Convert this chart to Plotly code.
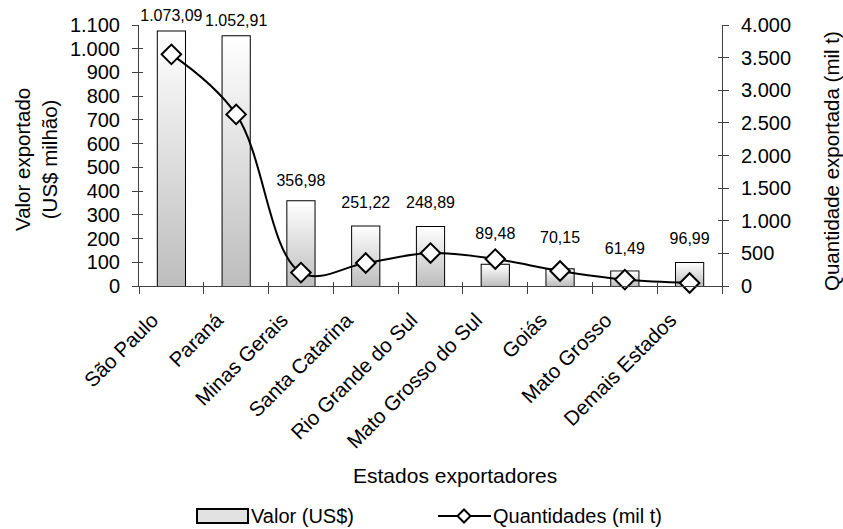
import plotly.graph_objects as go

# Exportações por estado: valor (US$ milhão) e quantidade (mil t)
estados = ["São Paulo", "Paraná", "Minas Gerais", "Santa Catarina",
           "Rio Grande do Sul", "Mato Grosso do Sul", "Goiás",
           "Mato Grosso", "Demais Estados"]
valor = [1073.09, 1052.91, 356.98, 251.22, 248.89, 89.48, 70.15, 61.49, 96.99]
quantidade = [3550, 2630, 205, 352, 505, 413, 230, 98, 46]

left_ticks = list(range(0, 1101, 100))
right_ticks = list(range(0, 4001, 500))

# vertical gap (px) between each bar top and its value label
label_gap = [12, 12, 16, 19, 19, 25, 25, 18, 19]

FONT = "Liberation Sans, Arial, sans-serif"
BAR_W = 0.42
W, H = 843, 529
ML, MR, MT, MB = 139, 121, 25, 243
PW, PH = W - ML - MR, H - MT - MB
AX = "#404040"


def px(xp):
    return (xp - ML) / PW


def py(yp):
    return (H - MB - yp) / PH


pos = list(range(len(estados)))
bounds = [p - 0.5 for p in pos] + [len(estados) - 0.5]
xrange_ = [-0.5, len(estados) - 0.5]
fig = go.Figure()

# gradient fill of each bar (grey at the base fading to white at the top)
for i, v in zip(pos, valor):
    fig.add_trace(go.Scatter(
        x=[i - BAR_W / 2, i + BAR_W / 2, i + BAR_W / 2, i - BAR_W / 2, i - BAR_W / 2],
        y=[0, 0, v, v, 0],
        mode="lines", line=dict(width=0), fill="toself",
        fillgradient=dict(type="vertical", start=0, stop=v,
                          colorscale=[[0, "#bdbdbd"], [1, "#ffffff"]]),
        hoverinfo="skip", showlegend=False,
    ))

# bar outlines
fig.add_trace(go.Bar(
    x=pos, y=valor, width=BAR_W, name="Valor (US$)",
    marker=dict(color="rgba(0,0,0,0)", line=dict(color="black", width=2)),
    showlegend=False, hoverinfo="skip",
))

# value labels above the bars
fig.add_trace(go.Scatter(
    x=pos, y=valor, mode="markers+text",
    marker=dict(size=[2 * (g - 8) for g in label_gap], opacity=0),
    texttemplate="%{y:,.2f}", textposition="top center",
    textfont=dict(size=16, color="black", family=FONT),
    cliponaxis=False, showlegend=False, hoverinfo="skip",
))

# quantities on the secondary axis
fig.add_trace(go.Scatter(
    x=pos, y=quantidade, yaxis="y2", name="Quantidades (mil t)",
    mode="lines+markers",
    line=dict(color="black", width=2, shape="spline", smoothing=1.05),
    marker=dict(symbol="diamond", size=15, color="white",
                line=dict(color="black", width=2)),
    cliponaxis=False, showlegend=False,
))

# empty traces so the inner tick axes get drawn (ticks crossing the axis lines)
for xa, ya in (("x2", "y"), ("x", "y3"), ("x", "y4")):
    fig.add_trace(go.Scatter(x=[None], y=[None], xaxis=xa, yaxis=ya,
                             showlegend=False, hoverinfo="skip"))

axis_line = dict(showline=True, linecolor=AX, linewidth=1)
inner = dict(ticks="inside", ticklen=4, tickcolor=AX, tickwidth=1,
             showticklabels=False, showgrid=False, zeroline=False, showline=False)

fig.update_layout(
    width=W, height=H,
    margin=dict(l=ML, r=MR, t=MT, b=MB),
    paper_bgcolor="white", plot_bgcolor="white",
    separators=",.",
    font=dict(family=FONT, size=20, color="black"),
    showlegend=False,
    xaxis=dict(
        range=xrange_, tickmode="array",
        tickvals=pos, ticktext=estados, tickangle=-45,
        ticks="outside", ticklen=0, tickcolor="rgba(0,0,0,0)",
        ticklabelstandoff=13, ticklabelshift=-19,
        minor=dict(tickmode="array", tickvals=bounds,
                   ticks="outside", ticklen=7, tickcolor=AX, tickwidth=1),
        showgrid=False, zeroline=False, tickfont=dict(size=20.5), **axis_line,
    ),
    xaxis2=dict(range=xrange_, overlaying="x", anchor="y", tickmode="array",
                tickvals=bounds, **inner),
    yaxis=dict(
        range=[0, 1100], tickmode="array", tickvals=left_ticks,
        tickformat=",d", ticks="outside", ticklen=6, tickcolor=AX,
        ticklabelstandoff=8,
        showgrid=False, zeroline=False, tickfont=dict(size=20), **axis_line,
    ),
    yaxis2=dict(
        range=[0, 4000], overlaying="y", side="right", tickmode="array",
        tickvals=right_ticks, tickformat=",d", ticks="outside", ticklen=6,
        tickcolor=AX, ticklabelstandoff=8,
        showgrid=False, zeroline=False, tickfont=dict(size=20), **axis_line,
    ),
    yaxis3=dict(range=[0, 1100], overlaying="y", side="left", anchor="x",
                tickmode="array", tickvals=left_ticks, **inner),
    yaxis4=dict(range=[0, 4000], overlaying="y", side="right", anchor="x",
                tickmode="array", tickvals=right_ticks, **inner),
)

# axis titles
fig.add_annotation(text="Valor exportado<br>(US$ milhão)", textangle=-90,
                   xref="paper", yref="paper", x=px(36), y=py(160),
                   xanchor="center", yanchor="middle",
                   showarrow=False, font=dict(size=20.5))
fig.add_annotation(text="Quantidade exportada (mil t)", textangle=-90,
                   xref="paper", yref="paper", x=px(831), y=py(161),
                   xanchor="center", yanchor="middle",
                   showarrow=False, font=dict(size=20.5))
fig.add_annotation(text="Estados exportadores",
                   xref="paper", yref="paper", x=px(455), y=py(475),
                   xanchor="center", yanchor="middle",
                   showarrow=False, font=dict(size=21))

# legend
ly = 516
fig.add_shape(type="rect", xref="paper", yref="paper",
              x0=px(197), x1=px(248), y0=py(ly + 7), y1=py(ly - 7),
              fillcolor="#e2e2e2", line=dict(color="black", width=2))
fig.add_annotation(text="Valor (US$)", xref="paper", yref="paper",
                   x=px(249), y=py(ly), xanchor="left", yanchor="middle",
                   showarrow=False, font=dict(size=20))
fig.add_shape(type="line", xref="paper", yref="paper",
              x0=px(438), x1=px(491), y0=py(ly), y1=py(ly),
              line=dict(color="black", width=2))
d = 6.5
cx = 464
fig.add_shape(type="path", xref="paper", yref="paper",
              path=(f"M {px(cx - d)} {py(ly)} L {px(cx)} {py(ly - d)} "
                    f"L {px(cx + d)} {py(ly)} L {px(cx)} {py(ly + d)} Z"),
              fillcolor="white", line=dict(color="black", width=2))
fig.add_annotation(text="Quantidades (mil t)", xref="paper", yref="paper",
                   x=px(491), y=py(ly), xanchor="left", yanchor="middle",
                   showarrow=False, font=dict(size=20))

fig.write_html("out.html")
